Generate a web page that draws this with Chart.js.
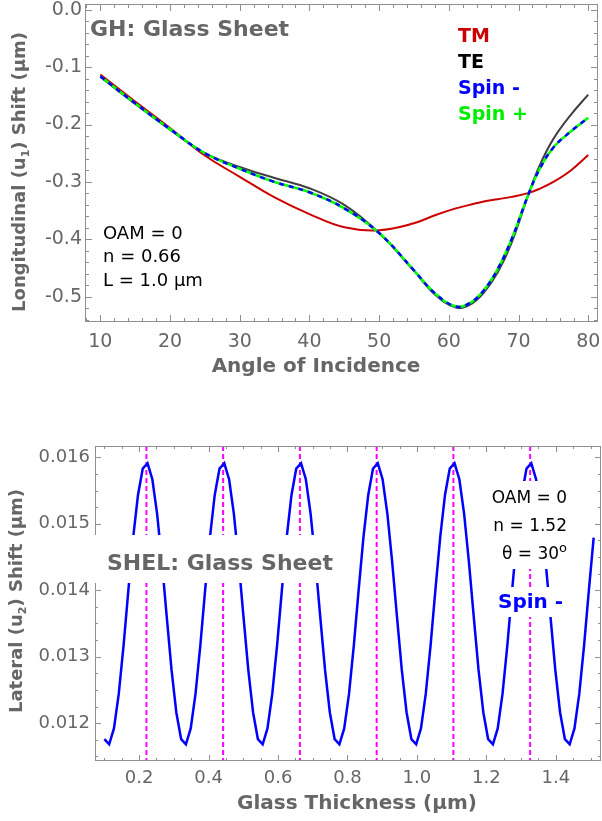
<!DOCTYPE html>
<html>
<head>
<meta charset="utf-8">
<script src="https://cdn.jsdelivr.net/npm/chart.js@4.4.1/dist/chart.umd.min.js"></script>
<style>
  body { margin: 0; background: #fff; }
  #wrap { position: relative; width: 602px; height: 821px; }
  canvas { position: absolute; left: 0; }
  #ghChart { top: 0; }
  #shelChart { top: 400px; }
</style>
</head>
<body>
<div id="wrap">
  <canvas id="ghChart" width="602" height="400"></canvas>
  <canvas id="shelChart" width="602" height="421"></canvas>
</div>
<script>
// ---- GH: longitudinal shift vs angle of incidence (deg, um)
const angles  = [10, 15, 20, 25, 30, 35, 40, 45, 50, 55, 58, 61, 63, 65, 67, 69, 71.5, 73, 75, 77.5, 80];
const shiftTM = [-0.113, -0.160, -0.206, -0.254, -0.291, -0.327, -0.356, -0.379, -0.384, -0.372,
                 -0.358, -0.346, -0.340, -0.334, -0.330, -0.326, -0.319, -0.312, -0.300, -0.280, -0.253];
const shiftTE = [-0.117, -0.164, -0.209, -0.250, -0.274, -0.293, -0.311, -0.340, -0.389, -0.455,
                 -0.496, -0.519, -0.514, -0.493, -0.458, -0.406, -0.319, -0.272, -0.225, -0.183, -0.148];
const shiftSpinMinus = [-0.116, -0.163, -0.208, -0.250, -0.277, -0.300, -0.318, -0.346, -0.389, -0.454,
                        -0.494, -0.517, -0.511, -0.489, -0.452, -0.400, -0.319, -0.278, -0.240, -0.212, -0.188];
const shiftSpinPlus  = [-0.116, -0.163, -0.208, -0.250, -0.277, -0.300, -0.318, -0.346, -0.389, -0.454,
                        -0.494, -0.517, -0.511, -0.489, -0.452, -0.400, -0.319, -0.278, -0.240, -0.212, -0.188];
const ghXTicks = [10, 20, 30, 40, 50, 60, 70, 80];
const ghYTicks = [0, -0.1, -0.2, -0.3, -0.4, -0.5];

// ---- SHEL: lateral shift vs glass thickness (um, um)
const thickness = [
  0.1000, 0.1138, 0.1276, 0.1414, 0.1553, 0.1691, 0.1829, 0.1967, 0.2105, 0.2243, 0.2381, 0.2519, 0.2658, 0.2796, 0.2934, 0.3072,
  0.3210, 0.3348, 0.3486, 0.3624, 0.3763, 0.3901, 0.4039, 0.4177, 0.4315, 0.4453, 0.4591, 0.4729, 0.4868, 0.5006, 0.5144, 0.5282,
  0.5420, 0.5558, 0.5696, 0.5834, 0.5973, 0.6111, 0.6249, 0.6387, 0.6525, 0.6663, 0.6801, 0.6939, 0.7078, 0.7216, 0.7354, 0.7492,
  0.7630, 0.7768, 0.7906, 0.8044, 0.8183, 0.8321, 0.8459, 0.8597, 0.8735, 0.8873, 0.9011, 0.9149, 0.9288, 0.9426, 0.9564, 0.9702,
  0.9840, 0.9978, 1.0116, 1.0254, 1.0393, 1.0531, 1.0669, 1.0807, 1.0945, 1.1083, 1.1221, 1.1359, 1.1498, 1.1636, 1.1774, 1.1912,
  1.2050, 1.2188, 1.2326, 1.2464, 1.2603, 1.2741, 1.2879, 1.3017, 1.3155, 1.3293, 1.3431, 1.3569, 1.3708, 1.3846, 1.3984, 1.4122,
  1.4260, 1.4398, 1.4536, 1.4674, 1.4813, 1.4951, 1.5089
];
const lateralSpinMinus = [
  0.01176, 0.01168, 0.01192, 0.01244, 0.01317, 0.01400, 0.01479, 0.01543, 0.01583, 0.01591, 0.01567, 0.01515, 0.01442, 0.01360, 0.01280, 0.01216,
  0.01176, 0.01168, 0.01192, 0.01244, 0.01317, 0.01400, 0.01479, 0.01543, 0.01583, 0.01591, 0.01567, 0.01515, 0.01442, 0.01360, 0.01280, 0.01216,
  0.01176, 0.01168, 0.01192, 0.01244, 0.01317, 0.01400, 0.01479, 0.01543, 0.01583, 0.01591, 0.01567, 0.01515, 0.01442, 0.01360, 0.01280, 0.01216,
  0.01176, 0.01168, 0.01192, 0.01244, 0.01317, 0.01400, 0.01479, 0.01543, 0.01583, 0.01591, 0.01567, 0.01515, 0.01442, 0.01360, 0.01280, 0.01216,
  0.01176, 0.01168, 0.01192, 0.01244, 0.01317, 0.01400, 0.01479, 0.01543, 0.01583, 0.01591, 0.01567, 0.01515, 0.01442, 0.01360, 0.01280, 0.01216,
  0.01176, 0.01168, 0.01192, 0.01244, 0.01317, 0.01400, 0.01479, 0.01543, 0.01583, 0.01591, 0.01567, 0.01515, 0.01442, 0.01360, 0.01280, 0.01216,
  0.01176, 0.01168, 0.01192, 0.01244, 0.01317, 0.01400, 0.01479
];
const resonances = [0.221, 0.442, 0.663, 0.884, 1.105, 1.326]; // dashed magenta lines
const shelXTicks = [0.2, 0.4, 0.6, 0.8, 1.0, 1.2, 1.4];
const shelYTicks = [0.012, 0.013, 0.014, 0.015, 0.016];

const FONT = 'DejaVu Sans';
const GRAY = '#666666';
const FRAME = '#909090';

function pts(xs, ys) {
  return xs.map((x, i) => ({ x: x, y: ys[i] }));
}

// frame on all four sides with inward major/minor ticks
function drawFrame(chart, o) {
  const { ctx, chartArea: a, scales } = chart;
  const x = scales.x, y = scales.y;
  ctx.save();
  ctx.strokeStyle = FRAME;
  ctx.lineWidth = 1;
  ctx.strokeRect(a.left + 0.5, a.top + 0.5, a.right - a.left - 1, a.bottom - a.top - 1);
  ctx.beginPath();
  function xt(v, len) {
    const p = Math.round(x.getPixelForValue(v)) + 0.5;
    if (p < a.left || p > a.right) return;
    ctx.moveTo(p, a.bottom); ctx.lineTo(p, a.bottom - len);
    ctx.moveTo(p, a.top); ctx.lineTo(p, a.top + len);
  }
  function yt(v, len) {
    const p = Math.round(y.getPixelForValue(v)) + 0.5;
    if (p < a.top || p > a.bottom) return;
    ctx.moveTo(a.left, p); ctx.lineTo(a.left + len, p);
    ctx.moveTo(a.right, p); ctx.lineTo(a.right - len, p);
  }
  for (let v = o.xMinor[0]; v <= x.max; v += o.xMinor[1]) xt(v, o.minorLen);
  for (let v = o.yMinor[0]; v <= y.max; v += o.yMinor[1]) yt(v, o.minorLen);
  o.xMajor.forEach(v => xt(v, o.majorLen));
  o.yMajor.forEach(v => yt(v, o.majorLen));
  ctx.stroke();
  ctx.restore();
}

// vertical axis title with a subscript
function drawYTitle(ctx, cx, cy, pre, sub, post, size) {
  ctx.save();
  ctx.translate(cx, cy);
  ctx.rotate(-Math.PI / 2);
  ctx.fillStyle = GRAY;
  const big = 'bold ' + size + 'px ' + FONT;
  const small = 'bold ' + Math.round(size * 0.62) + 'px ' + FONT;
  ctx.font = big;
  const w1 = ctx.measureText(pre).width, w3 = ctx.measureText(post).width;
  ctx.font = small;
  const w2 = ctx.measureText(sub).width;
  let x0 = -(w1 + w2 + w3) / 2;
  ctx.textBaseline = 'middle';
  ctx.font = big;
  ctx.fillText(pre, x0, 0);
  ctx.font = small;
  ctx.fillText(sub, x0 + w1, size * 0.32);
  ctx.font = big;
  ctx.fillText(post, x0 + w1 + w2, 0);
  ctx.restore();
}

function fixAxis(size) {
  return function (scale) {
    if (scale.isHorizontal()) scale.height = size; else scale.width = size;
    scale.paddingTop = 0; scale.paddingBottom = 0;
    scale.paddingLeft = 0; scale.paddingRight = 0;
  };
}

// ---------------- GH chart
const ghPlugin = {
  id: 'ghText',
  afterDraw(chart) {
    drawFrame(chart, {
      xMajor: ghXTicks, yMajor: ghYTicks, xMinor: [8, 2], yMinor: [-0.54, 0.02],
      majorLen: 7, minorLen: 4
    });
    const ctx = chart.ctx;
    ctx.save();
    ctx.textBaseline = 'alphabetic';
    ctx.textAlign = 'left';
    ctx.fillStyle = GRAY;
    ctx.font = 'bold 22px ' + FONT;
    ctx.fillText('GH: Glass Sheet', 90, 36);

    ctx.font = 'bold 19px ' + FONT;
    [['TM', '#cc0000', 42], ['TE', '#000000', 68], ['Spin -', '#0000ff', 94], ['Spin +', '#00ee00', 120]]
      .forEach(l => { ctx.fillStyle = l[1]; ctx.fillText(l[0], 458, l[2]); });

    ctx.fillStyle = '#000';
    ctx.font = '18px ' + FONT;
    ctx.fillText('OAM = 0', 103, 239);
    ctx.fillText('n = 0.66', 103, 262);
    ctx.fillText('L = 1.0 \u03bcm', 103, 286);

    ctx.fillStyle = GRAY;
    ctx.font = 'bold 20px ' + FONT;
    ctx.textAlign = 'center';
    ctx.fillText('Angle of Incidence', 316, 372);
    ctx.restore();
    drawYTitle(ctx, 20, 172, 'Longitudinal (u', '1', ') Shift (\u03bcm)', 18);
  }
};

// dataset 0 is drawn on top
new Chart(document.getElementById('ghChart'), {
  type: 'line',
  data: {
    datasets: [
      { label: 'Spin -', data: pts(angles, shiftSpinMinus), borderColor: '#0000ff', borderWidth: 2.5, borderDash: [5, 5] },
      { label: 'Spin +', data: pts(angles, shiftSpinPlus), borderColor: '#00ff00', borderWidth: 2.5 },
      { label: 'TM', data: pts(angles, shiftTM), borderColor: '#cc0000', borderWidth: 2 },
      { label: 'TE', data: pts(angles, shiftTE), borderColor: '#404040', borderWidth: 2 }
    ]
  },
  options: {
    responsive: false,
    animation: false,
    layout: { padding: { left: 0, top: 4, right: 4, bottom: 0 } },
    elements: {
      point: { radius: 0 },
      line: { tension: 0.4, fill: false }
    },
    plugins: { legend: { display: false }, tooltip: { enabled: false } },
    scales: {
      x: {
        type: 'linear', min: 7.8, max: 81.4,
        afterBuildTicks: s => { s.ticks = ghXTicks.map(v => ({ value: v })); },
        afterFit: fixAxis(78),
        grid: { display: false, drawTicks: false },
        border: { display: false },
        ticks: { color: GRAY, padding: 9, font: { family: FONT, size: 19 }, maxRotation: 0, callback: v => String(v) }
      },
      y: {
        type: 'linear', min: -0.544, max: 0.01,
        afterBuildTicks: s => { s.ticks = ghYTicks.map(v => ({ value: v })); },
        afterFit: fixAxis(85),
        grid: { display: false, drawTicks: false },
        border: { display: false },
        ticks: { color: GRAY, padding: 3, font: { family: FONT, size: 19 }, callback: v => v.toFixed(1) }
      }
    }
  },
  plugins: [ghPlugin]
});

// ---------------- SHEL chart
const shelPlugin = {
  id: 'shelText',
  beforeDatasetsDraw(chart) {
    const { ctx, chartArea: a, scales: { x } } = chart;
    ctx.save();
    ctx.strokeStyle = '#ff00ff';
    ctx.lineWidth = 2;
    ctx.setLineDash([5, 3]);
    ctx.beginPath();
    resonances.forEach(v => {
      const p = x.getPixelForValue(v);
      ctx.moveTo(p, a.top); ctx.lineTo(p, a.bottom);
    });
    ctx.stroke();
    ctx.restore();
  },
  afterDraw(chart) {
    drawFrame(chart, {
      xMajor: shelXTicks, yMajor: shelYTicks, xMinor: [0.1, 0.05], yMinor: [0.0115, 0.00025],
      majorLen: 6, minorLen: 3
    });
    const ctx = chart.ctx;
    ctx.save();
    ctx.fillStyle = '#fff';
    ctx.fillRect(92, 135, 260, 48);
    ctx.fillRect(488, 81, 84, 88);
    ctx.fillRect(493, 187, 74, 30);

    ctx.textBaseline = 'alphabetic';
    ctx.textAlign = 'left';
    ctx.fillStyle = GRAY;
    ctx.font = 'bold 22px ' + FONT;
    ctx.fillText('SHEL: Glass Sheet', 107, 170);

    ctx.fillStyle = '#000';
    ctx.font = '17px ' + FONT;
    ctx.textAlign = 'right';
    ctx.fillText('OAM = 0', 567, 103);
    ctx.fillText('n = 1.52', 567, 131);
    ctx.font = '13px ' + FONT;
    const ow = ctx.measureText('o').width;
    ctx.fillText('o', 567, 152);
    ctx.font = '17px ' + FONT;
    ctx.fillText('\u03b8 = 30', 567 - ow, 159);

    ctx.textAlign = 'left';
    ctx.fillStyle = '#0000ff';
    ctx.font = 'bold 20px ' + FONT;
    ctx.fillText('Spin -', 498, 208);

    ctx.fillStyle = GRAY;
    ctx.textAlign = 'center';
    ctx.font = 'bold 20px ' + FONT;
    ctx.fillText('Glass Thickness (\u03bcm)', 357, 409);
    ctx.restore();
    drawYTitle(ctx, 17, 201, 'Lateral (u', '2', ') Shift (\u03bcm)', 18);
  }
};

new Chart(document.getElementById('shelChart'), {
  type: 'line',
  data: {
    datasets: [
      { label: 'Spin -', data: pts(thickness, lateralSpinMinus), borderColor: '#0000ff', borderWidth: 2.5, tension: 0 }
    ]
  },
  options: {
    responsive: false,
    animation: false,
    layout: { padding: { left: 0, top: 46, right: 1, bottom: 0 } },
    elements: { point: { radius: 0 }, line: { fill: false } },
    plugins: { legend: { display: false }, tooltip: { enabled: false } },
    scales: {
      x: {
        type: 'linear', min: 0.073, max: 1.53,
        afterBuildTicks: s => { s.ticks = shelXTicks.map(v => ({ value: v })); },
        afterFit: fixAxis(60),
        grid: { display: false, drawTicks: false },
        border: { display: false },
        ticks: { color: GRAY, padding: 7, font: { family: FONT, size: 18 }, maxRotation: 0, callback: v => v.toFixed(1) }
      },
      y: {
        type: 'linear', min: 0.01143, max: 0.01617,
        afterBuildTicks: s => { s.ticks = shelYTicks.map(v => ({ value: v })); },
        afterFit: fixAxis(95),
        grid: { display: false, drawTicks: false },
        border: { display: false },
        ticks: { color: GRAY, padding: 5, font: { family: FONT, size: 18 }, callback: v => v.toFixed(3) }
      }
    }
  },
  plugins: [shelPlugin]
});
</script>
</body>
</html>
